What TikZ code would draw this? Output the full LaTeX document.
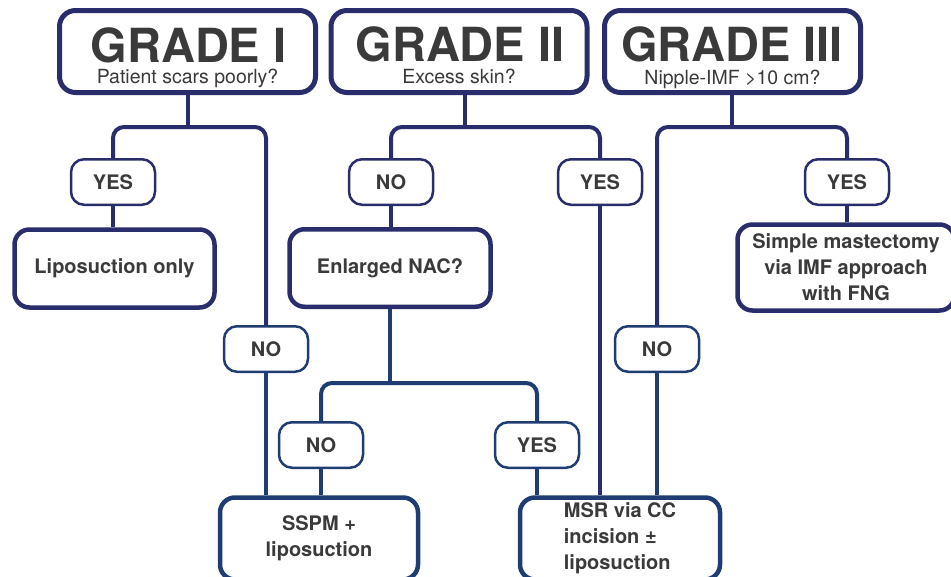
\documentclass[tikz,border=0pt]{standalone}
\usepackage{fontspec}
\setmainfont{TeX Gyre Heros}
\definecolor{navy}{HTML}{292D6B}
\definecolor{deepblue}{HTML}{1F3D72}
\definecolor{ink}{HTML}{3A3A3A}

\begin{document}
\begin{tikzpicture}[x=1pt,y=-1pt,
	hdr/.style={draw=navy,line width=5pt,rounded corners=16pt,fill=white,minimum width=256pt,minimum height=82pt,inner sep=0pt},
	gradetxt/.style={font=\fontsize{47}{50}\selectfont\bfseries,text=ink,anchor=base,inner sep=0pt},
	asktxt/.style={font=\fontsize{19.5}{22}\selectfont,text=ink,anchor=base,inner sep=0pt},
	lbl/.style={draw=#1,line width=2.5pt,rounded corners=13pt,fill=white,minimum width=84pt,minimum height=45.5pt,inner sep=0pt,font=\fontsize{20}{24}\selectfont\bfseries,text=ink},
	lbl/.default=navy,
	res/.style={draw=#1,line width=4.5pt,rounded corners=15pt,fill=white,inner sep=0pt,font=\fontsize{20}{26}\selectfont\bfseries,text=ink},
	res/.default=navy,
	conn/.style={draw=#1,line width=4pt,rounded corners=11pt},
	conn/.default=navy]
			\useasboundingbox (0,0) rectangle (951,576);
			\clip (0,0) rectangle (951,576);
			
			\node[hdr] (g1) at (187.5,51.5) {};
			\node[gradetxt] (g1t) at (188.5,62) {GRADE I};
			\node[asktxt] (g1q) at (187.5,83) {Patient scars poorly?};
			\node[hdr] (g2) at (459,51.5) {};
			\node[gradetxt] (g2t) at (460,61) {GRADE II};
			\node[asktxt] (g2q) at (459,83) {Excess skin?};
			\node[hdr] (g3) at (732.5,51.5) {};
			\node[gradetxt] (g3t) at (732,61) {GRADE III};
			\node[asktxt] (g3q) at (732.5,84) {Nipple-IMF >10 cm?};
			
			\coordinate (b1) at (188,127); \coordinate (b2) at (465,127);
			\coordinate (b3) at (390,383); \coordinate (b4) at (732,127);
			
			\node[lbl] (y1) at (113,182) {YES};
			\node[lbl=deepblue] (n1) at (266,349) {NO};
			\node[lbl] (n2) at (391,182) {NO};
			\node[lbl] (y2) at (600,182) {YES};
			\node[lbl=deepblue] (n3) at (657,349) {NO};
			\node[lbl] (y3) at (847,182) {YES};
			\node[lbl=deepblue] (n4) at (321,445) {NO};
			\node[lbl=deepblue] (y4) at (537,445) {YES};
			
			\node[res,minimum width=200pt,minimum height=78pt] (lipo) at (114.5,268.5) {Liposuction only};
			\node[res,minimum width=201pt,minimum height=77.5pt] (nac) at (390,268) {Enlarged NAC?};
			\node[res,minimum width=217pt,minimum height=86pt,align=center] (mast) at (846,267.5) {Simple mastectomy\\via IMF approach\\with FNG};
			\node[res=deepblue,minimum width=198pt,minimum height=82pt,align=center] (sspm) at (319,538.5) {SSPM +\\liposuction};
			\node[res=deepblue,minimum width=200pt,minimum height=82pt,align=left] (msr) at (620,538.5) {MSR via CC\\incision ±\\liposuction};
			
			\draw[conn] (g1.south -| b1) -- (b1);
			\draw[conn] (y1.north) |- (b1) -| (n1.north);
			\draw[conn] (y1.south) -- (y1.south |- lipo.north);
			\draw[conn=deepblue] (n1.south) -- (n1.south |- sspm.north);
			
			\draw[conn] (g2.south -| b2) -- (b2);
			\draw[conn] (n2.north) |- (b2) -| (y2.north);
			\draw[conn] (n2.south) -- (n2.south |- nac.north);
			\draw[conn] (y2.south) -- (y2.south |- msr.north);
			\draw[conn=deepblue] (nac.south -| b3) -- (b3);
			\draw[conn=deepblue] (n4.north) |- (b3) -| (y4.north);
			\draw[conn=deepblue] (n4.south) -- (n4.south |- sspm.north);
			\draw[conn=deepblue] (y4.south) -- (y4.south |- msr.north);
			
			\draw[conn] (g3.south -| b4) -- (b4);
			\draw[conn] (n3.north) |- (b4) -| (y3.north);
			\draw[conn=deepblue] (n3.south) -- (n3.south |- msr.north);
			\draw[conn] (y3.south) -- (y3.south |- mast.north);
\end{tikzpicture}
\end{document}
